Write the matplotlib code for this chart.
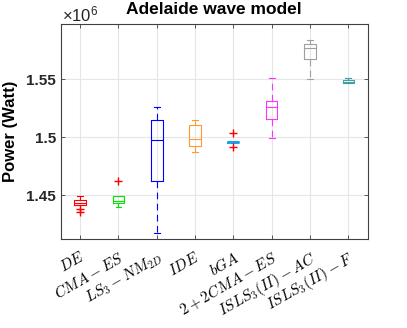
import matplotlib
matplotlib.use("Agg")
import matplotlib.pyplot as plt
from matplotlib import ticker

plt.rcParams['mathtext.fontset'] = 'cm'
plt.rcParams['font.family'] = ['Liberation Sans', 'DejaVu Sans']

categories = [r'$DE$', r'$CMA-ES$', r'$LS_3-NM_{2D}$', r'$IDE$', r'$bGA$',
              r'$2+2CMA-ES$', r'$ISLS_3(II)-AC$', r'$ISLS_3(II)-F$']
# values in units of 1e6 Watt
whislo = [1.4421, 1.4400, 1.4173, 1.4869, 1.4952, 1.4992, 1.5502, 1.5462]
q1     = [1.4421, 1.4431, 1.4620, 1.4921, 1.4952, 1.5158, 1.5668, 1.5465]
med    = [1.4438, 1.4454, 1.4975, 1.4986, 1.4955, 1.5256, 1.5763, 1.5478]
q3     = [1.4457, 1.4497, 1.5150, 1.5101, 1.4958, 1.5310, 1.5802, 1.5490]
whishi = [1.4497, 1.4497, 1.5256, 1.5147, 1.4958, 1.5507, 1.5832, 1.5510]
fliers = [[1.4380, 1.4354], [1.4620], [], [], [1.5038, 1.4913], [], [], []]
colors = ['#ff0000', '#00e600', '#0000ff', '#ff9933', '#1a9fe6',
          '#ff33ff', '#a0a0a0', '#40a0a0']

fig = plt.figure(figsize=(4.07, 3.28), dpi=100)
ax = fig.add_axes([61/407, 1 - 239.3/328, 306.5/407, 215.3/328])

stats = []
for i in range(len(categories)):
    stats.append(dict(whislo=whislo[i] * 1e6, q1=q1[i] * 1e6, med=med[i] * 1e6,
                      q3=q3[i] * 1e6, whishi=whishi[i] * 1e6,
                      fliers=[f * 1e6 for f in fliers[i]]))

positions = list(range(1, len(categories) + 1))
bp = ax.bxp(stats, positions=positions, widths=0.3, showfliers=True,
            patch_artist=False, manage_ticks=False)
for i, c in enumerate(colors):
    bp['boxes'][i].set(color=c, linewidth=0.8)
    bp['medians'][i].set(color=c, linewidth=0.8)
    for w in bp['whiskers'][2 * i:2 * i + 2]:
        w.set(color=c, linewidth=0.8, linestyle=(0, (6, 4)))
    for cp in bp['caps'][2 * i:2 * i + 2]:
        cp.set(color=c, linewidth=0.8)
        xd = cp.get_xdata()
        m = (xd[0] + xd[1]) / 2
        cp.set_xdata([m - 0.075, m + 0.075])
    bp['fliers'][i].set(marker='+', markeredgecolor='red', markersize=6,
                        markeredgewidth=1.0, linestyle='none')
# bGA box is very narrow in height
bp['boxes'][4].set(linewidth=1.3)
bp['medians'][4].set(linewidth=1.3)

ax.set_xlim(0.5, 8.5)
ax.set_ylim(1.4122e6, 1.5973e6)
ax.set_xticks(positions)
ax.set_xticklabels(categories, rotation=30, ha='right', rotation_mode='anchor',
                   fontsize=11)
ax.set_yticks([1.45e6, 1.5e6, 1.55e6])
ax.yaxis.set_major_formatter(ticker.FuncFormatter(lambda v, p: '%g' % (v / 1e6)))
for lab in ax.get_yticklabels():
    lab.set_fontweight('bold')
    lab.set_fontsize(11)
    lab.set_color('#262626')

ax.grid(True, color='#e6e6e6', linewidth=0.8)
ax.set_axisbelow(True)
ax.tick_params(direction='in', length=3, color='#404040', top=True, right=True,
               width=0.6)
ax.tick_params(axis='x', pad=7)
for s in ax.spines.values():
    s.set_color('#404040')
    s.set_linewidth(0.8)

ax.set_ylabel('Power (Watt)', fontsize=12, fontweight='bold', labelpad=6)
ax.set_title('Adelaide wave model', fontsize=12.5, fontweight='bold', pad=7)
fig.text(62/407, 1 - 14/328, r'$\mathregular{\times10^6}$', fontsize=12,
         va='center', ha='left', color='#262626')

fig.savefig('out.png', dpi=100)
